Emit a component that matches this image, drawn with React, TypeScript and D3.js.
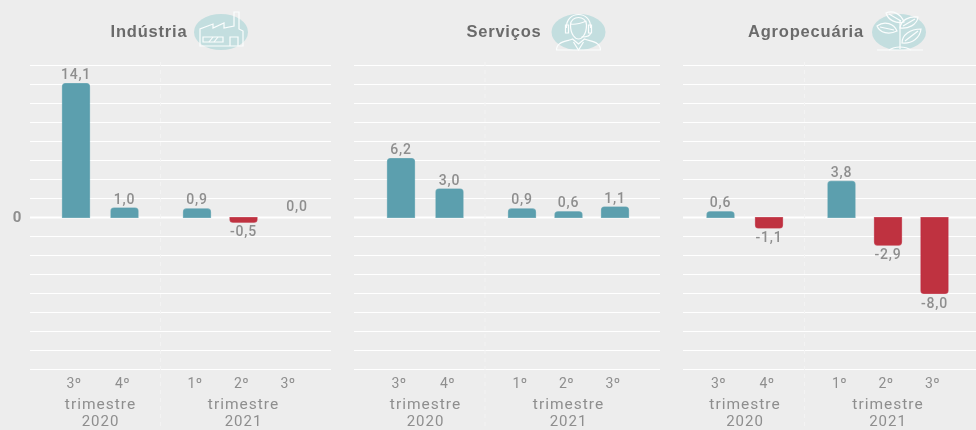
import React, { useEffect, useRef } from 'react'
import * as d3 from 'd3'

// data
const sectors = ['Indústria', 'Serviços', 'Agropecuária']
const quarters2020 = ['3º', '4º']
const quarters2021 = ['1º', '2º', '3º']
const industria = [14.1, 1.0, 0.9, -0.5, 0.0]
const servicos = [6.2, 3.0, 0.9, 0.6, 1.1]
const agropecuaria = [0.6, -1.1, 3.8, -2.9, -8.0]
const sectorValues = [industria, servicos, agropecuaria]
const gridTicks = d3.range(-16, 17, 2)

// layout of each small multiple
const panels = [
  { left: 30, right: 331, first: 76, titleX: 149, iconX: 221, split: 160.5 },
  { left: 354, right: 660, first: 401, titleX: 504, iconX: 578.5, split: 485 },
  { left: 683, right: 976, first: 720.5, titleX: 806, iconX: 899, split: 804.5 },
]

const icons = [
  [
    'M-21,14 V-3 L-8,-8 V-4 L3,-9 V-4 L13,-6 V-20 H18 V-3 L22,-1 V14 Z',
    'M-18,5 H2 V10 H-18 Z',
    'M-12,10 L-8,5 M-7,10 L-3,5',
    'M9,14 V5 H17 V14',
  ],
  [
    'M-8,-7 C-8,-17 8,-17 8,-7 C8,3 3,7 0,7 C-3,7 -8,3 -8,-7 Z',
    'M-12,-4 C-13,-22 13,-22 12,-4',
    'M-13,-7 H-10 V1 H-13 Z M10,-7 H13 V1 H10 Z',
    'M12,1 C12,4 8,5 3,5',
    'M-8,-8 C-3,-7 3,-9 8,-11',
    'M-22,18 C-22,10 -14,10 -6,7 L0,12 L6,7 C14,10 22,10 22,18 Z',
    'M-5,10 L0,18 L5,10',
  ],
  [
    'M-22,18 H24',
    'M1,17 C1,6 1,-4 1,-12',
    'M-10,18 C-4,14 6,14 12,18',
    'M-22,-6 C-14,-12 -5,-8 -2,-1 C-10,3 -19,1 -22,-6 Z M-19,-5 L-5,-2',
    'M-13,-19 C-6,-22 2,-18 5,-10 C-3,-8 -11,-12 -13,-19 Z M-10,-18 L2,-11',
    'M1,-4 C2,-12 10,-16 19,-15 C18,-7 9,-3 1,-4 Z M4,-6 L16,-13',
    'M3,11 C3,3 11,-3 22,-3 C21,6 13,12 3,11 Z M6,9 L19,-1',
  ],
]

const WIDTH = 976
const HEIGHT = 430
const BAR_W = 27
const STEP_2020 = 48.5
const GAP = 72.5
const STEP_2021 = 46.5

const POS = '#5b9fae'
const NEG = '#bf3040'
const TEXT = '#8e8e8e'
const fmt = (v: number) => v.toFixed(1).replace('.', ',')

// bar with only the far end rounded
const barPath = (x: number, y0: number, y1: number, w: number) => {
  const dir = y1 < y0 ? 1 : -1
  const r = Math.min(3, Math.abs(y1 - y0))
  const p = d3.path()
  p.moveTo(x, y0)
  p.lineTo(x, y1 + dir * r)
  p.quadraticCurveTo(x, y1, x + r, y1)
  p.lineTo(x + w - r, y1)
  p.quadraticCurveTo(x + w, y1, x + w, y1 + dir * r)
  p.lineTo(x + w, y0)
  p.closePath()
  return p.toString()
}

const App = () => {
  const ref = useRef<SVGSVGElement>(null)

  useEffect(() => {
    const svg = d3.select(ref.current)
    svg.selectAll('*').remove()

    svg.append('defs').append('filter').attr('id', 'soft')
      .append('feGaussianBlur').attr('stdDeviation', 0.45)

    const root = svg.append('g').attr('filter', 'url(#soft)')
      .style('font-family', 'Roboto, sans-serif')

    root.append('rect').attr('width', WIDTH).attr('height', HEIGHT).attr('fill', '#ededed')

    const y = d3.scaleLinear().domain([-16, 16]).range([369.5, 65.5])

    root.append('text').attr('x', 17).attr('y', y(0) + 4).attr('text-anchor', 'middle')
      .attr('font-size', 15).attr('font-weight', 700).attr('fill', TEXT).text('0')

    panels.forEach((panel, i) => {
      const g = root.append('g')

      const x2020 = d3.scalePoint().domain(quarters2020)
        .range([panel.first, panel.first + STEP_2020])
      const x2021 = d3.scalePoint().domain(quarters2021)
        .range([panel.first + STEP_2020 + GAP, panel.first + STEP_2020 + GAP + 2 * STEP_2021])
      const centers = [...quarters2020.map(q => x2020(q)!), ...quarters2021.map(q => x2021(q)!)]
      const ticks = [...quarters2020, ...quarters2021]

      // grid
      g.selectAll('line.grid').data(gridTicks).enter().append('line')
        .attr('class', 'grid')
        .attr('x1', panel.left).attr('x2', panel.right)
        .attr('y1', d => y(d)).attr('y2', d => y(d))
        .attr('stroke', '#fff')
        .attr('stroke-width', d => (d === 0 ? 1.8 : 1.1))

      // separator between the years
      g.append('line')
        .attr('x1', panel.split).attr('x2', panel.split)
        .attr('y1', 62).attr('y2', HEIGHT)
        .attr('stroke', '#f3f3f3').attr('stroke-dasharray', '4 4')

      // title and icon
      g.append('text').attr('x', panel.titleX).attr('y', 37).attr('text-anchor', 'middle')
        .attr('font-size', 16.5).attr('font-weight', 700).attr('letter-spacing', 0.8)
        .style('font-family', '"Liberation Sans", sans-serif')
        .attr('fill', '#6b6b6b').text(sectors[i])

      const icon = g.append('g').attr('transform', `translate(${panel.iconX},32)`)
      icon.append('ellipse').attr('rx', 27).attr('ry', 18).attr('fill', '#c3dedf')
      icon.selectAll('path').data(icons[i]).enter().append('path')
        .attr('d', d => d)
        .attr('fill', 'none').attr('stroke', '#fbfdfd').attr('stroke-width', 1.2)

      // bars, with the thin lighter edge they have in the picture
      const values = sectorValues[i]
      g.selectAll('path.bar').data(values).enter().append('path')
        .attr('class', 'bar')
        .filter(d => d !== 0)
        .attr('d', (d, j) => barPath(centers[j] - BAR_W / 2, y(0), y(d), BAR_W))
        .attr('fill', d => (d > 0 ? POS : NEG))
        .attr('stroke', d => (d > 0 ? POS : NEG))
        .attr('stroke-width', 1.2)
        .attr('stroke-opacity', 0.75)

      // value labels
      g.selectAll('text.value').data(values).enter().append('text')
        .attr('class', 'value')
        .attr('x', (d, j) => centers[j] + (d === 0 ? 7 : 0))
        .attr('y', d => (d < 0 ? y(d) + 14 : d === 0 ? y(0) - 7 : y(d) - 4.5))
        .attr('text-anchor', 'middle')
        .attr('font-size', 14).attr('font-weight', 500).attr('letter-spacing', 0.8)
        .attr('fill', TEXT)
        .text(d => fmt(d))

      // quarter ticks
      g.selectAll('text.tick').data(ticks).enter().append('text')
        .attr('class', 'tick')
        .attr('x', (d, j) => centers[j] - 2)
        .attr('y', 388)
        .attr('text-anchor', 'middle')
        .attr('font-size', 14).attr('letter-spacing', 0.4)
        .attr('fill', TEXT)
        .text(d => d)

      // year captions
      const yearCenters = [centers[0] + 24.5, centers[3]]
      ;['2020', '2021'].forEach((year, k) => {
        g.append('text').attr('x', yearCenters[k]).attr('y', 409).attr('text-anchor', 'middle')
          .attr('font-size', 15.5).attr('letter-spacing', 1).attr('fill', TEXT).text('trimestre')
        g.append('text').attr('x', yearCenters[k]).attr('y', 425.5).attr('text-anchor', 'middle')
          .attr('font-size', 15).attr('letter-spacing', 1).attr('fill', TEXT).text(year)
      })
    })
  }, [])

  return (
    <svg
      ref={ref}
      width={WIDTH}
      height={HEIGHT}
      style={{ position: 'absolute', left: 0, top: 0, display: 'block' }}
    />
  )
}

export default App
